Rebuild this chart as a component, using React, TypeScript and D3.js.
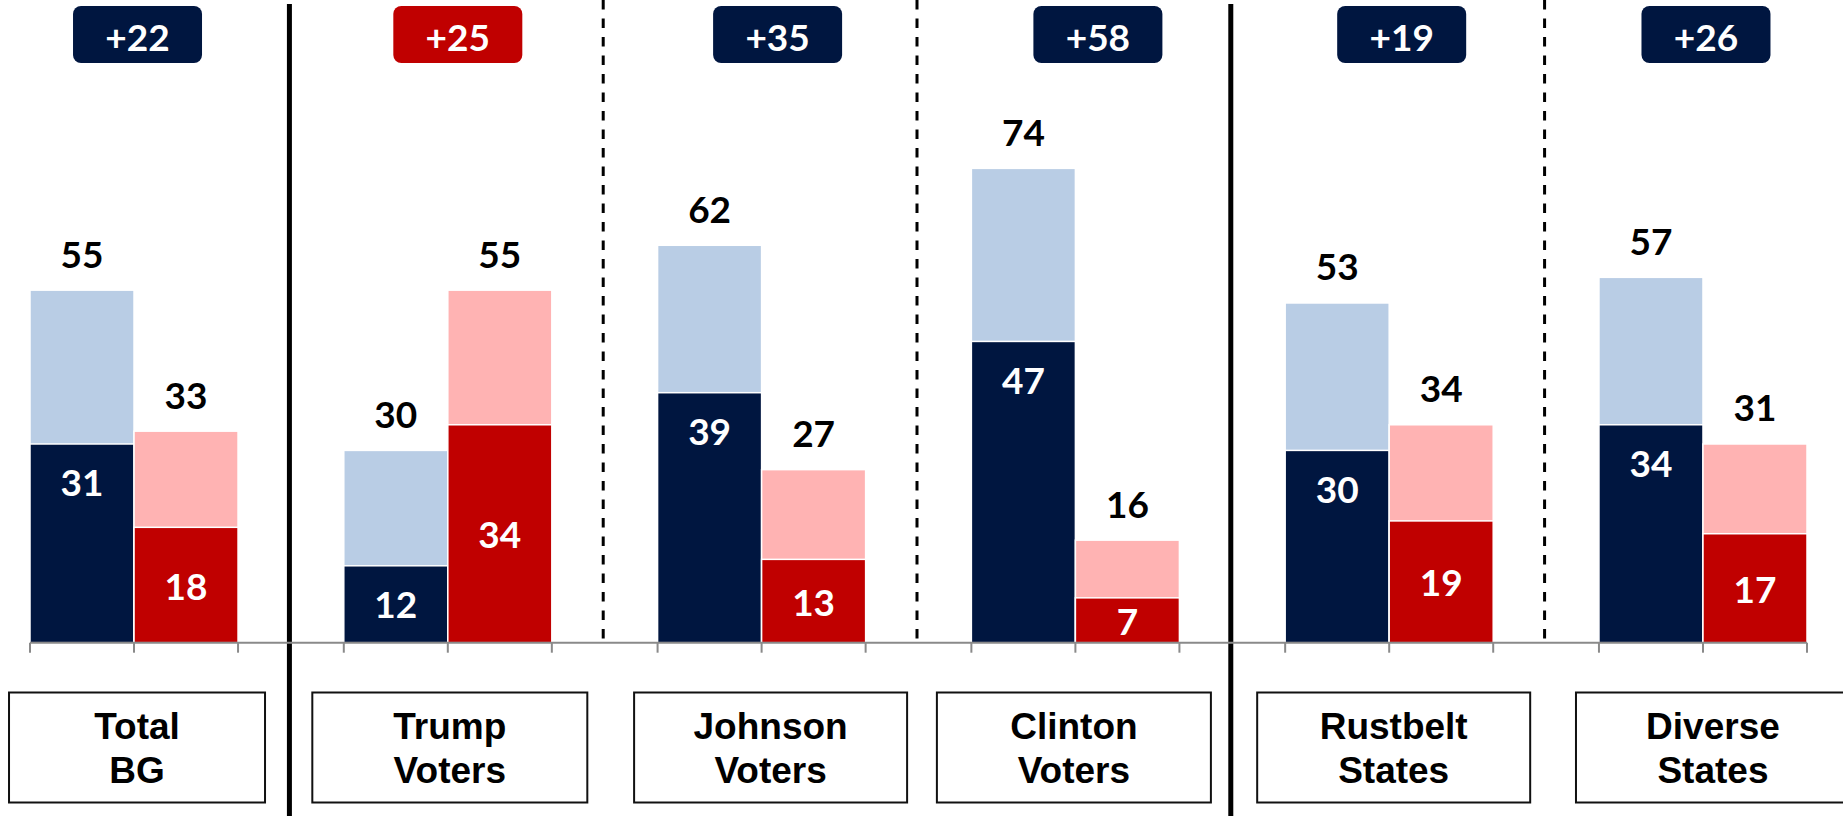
import React from "react";
import * as d3 from "d3";

// ---- data ----
const categories = ["Total BG", "Trump Voters", "Johnson Voters", "Clinton Voters", "Rustbelt States", "Diverse States"];
const categoryLines = [["Total", "BG"], ["Trump", "Voters"], ["Johnson", "Voters"], ["Clinton", "Voters"], ["Rustbelt", "States"], ["Diverse", "States"]];
const demTotal = [55, 30, 62, 74, 53, 57];
const demStrong = [31, 12, 39, 47, 30, 34];
const repTotal = [33, 55, 27, 16, 34, 31];
const repStrong = [18, 34, 13, 7, 19, 17];
const marginLabels = ["+22", "+25", "+35", "+58", "+19", "+26"];
const marginParty = ["D", "R", "D", "D", "D", "D"];
const separatorKinds = ["solid", "dashed", "dashed", "solid", "dashed"];

// ---- layout (not data) ----
const W = 1843;
const H = 816;
const badgeShift = [3.5, 10, 16, 22.5, 12.5, 3];
const boxShift = [3, 2, 9, -1.5, 4.5, 10];
const boxWidth = [256, 275, 273, 274, 273, 274];

const NAVY = "#001640";
const RED = "#C00000";
const LIGHT_BLUE = "#B9CDE5";
const PINK = "#FFB3B3";
const NUM_FONT = "Lato, 'Open Sans', sans-serif";
const LABEL_FONT = "'Liberation Sans', Arial, sans-serif";

export default function App() {
  const baseline = 642.7;
  const y = d3.scaleLinear().domain([0, 100]).range([baseline, baseline - 641]);
  const x0 = d3.scaleBand<string>().domain(categories).range([30, 1807]).paddingInner(0.337).paddingOuter(0);
  const x1 = d3.scaleBand<string>().domain(["D", "R"]).range([0, x0.bandwidth()]).padding(0);
  const bw = x1.bandwidth();
  const step = x0.step();
  const gap = step - x0.bandwidth();

  const axisStart = x0(categories[0])!;
  const axisEnd = x0(categories[categories.length - 1])! + x0.bandwidth();

  return (
    <svg width={W} height={H} style={{ position: "absolute", left: 0, top: 0, background: "#fff" }}>
      {/* separators */}
      {separatorKinds.map((k, i) => {
        const sx = x0(categories[i])! + x0.bandwidth() + gap / 2 - 1.5;
        return k === "solid" ? (
          <line key={"s" + i} x1={sx} x2={sx} y1={4} y2={H} stroke="#000" strokeWidth={5} />
        ) : (
          <line key={"s" + i} x1={sx} x2={sx} y1={0} y2={baseline + 3} stroke="#000" strokeWidth={3} strokeDasharray="9.5,9" />
        );
      })}

      {/* bars */}
      {categories.map((c, i) => {
        const gx = x0(c)!;
        const dx = gx + x1("D")!;
        const rx = gx + x1("R")!;
        return (
          <g key={"b" + i}>
            <rect x={dx} y={y(demTotal[i])} width={bw} height={baseline - y(demTotal[i])} fill={LIGHT_BLUE} stroke="#fff" strokeWidth={1.5} />
            <rect x={dx} y={y(demStrong[i])} width={bw} height={baseline - y(demStrong[i])} fill={NAVY} stroke="#fff" strokeWidth={1.5} />
            <rect x={rx} y={y(repTotal[i])} width={bw} height={baseline - y(repTotal[i])} fill={PINK} stroke="#fff" strokeWidth={1.5} />
            <rect x={rx} y={y(repStrong[i])} width={bw} height={baseline - y(repStrong[i])} fill={RED} stroke="#fff" strokeWidth={1.5} />
            {/* totals */}
            <text x={dx + bw / 2} y={y(demTotal[i]) - 22.5} textAnchor="middle" fontFamily={NUM_FONT} fontWeight={700} fontSize={37} fill="#000">
              {demTotal[i]}
            </text>
            <text x={rx + bw / 2} y={y(repTotal[i]) - 22.5} textAnchor="middle" fontFamily={NUM_FONT} fontWeight={700} fontSize={37} fill="#000">
              {repTotal[i]}
            </text>
            {/* inner labels */}
            <text x={dx + bw / 2} y={Math.min(y(demStrong[i]) + 52.5, (y(demStrong[i]) + baseline) / 2 + 14)} textAnchor="middle" fontFamily={NUM_FONT} fontWeight={700} fontSize={37} fill="#fff">
              {demStrong[i]}
            </text>
            <text x={rx + bw / 2} y={(y(repStrong[i]) + baseline) / 2 + 14.5} textAnchor="middle" fontFamily={NUM_FONT} fontWeight={700} fontSize={37} fill="#fff">
              {repStrong[i]}
            </text>
          </g>
        );
      })}

      {/* axis */}
      <line x1={axisStart} x2={axisEnd} y1={baseline} y2={baseline} stroke="#8a8a8a" strokeWidth={2} />
      {categories.map((c, i) => {
        const gx = x0(c)!;
        const ticks = [gx, gx + bw, gx + 2 * bw];
        return ticks.map((t, j) => (
          <line key={"t" + i + "_" + j} x1={t} x2={t} y1={baseline} y2={baseline + 10} stroke="#8a8a8a" strokeWidth={2} />
        ));
      })}

      {/* margin badges */}
      {categories.map((c, i) => {
        const cx = x0(c)! + x0.bandwidth() / 2 + badgeShift[i];
        return (
          <g key={"m" + i}>
            <rect x={cx - 64.5} y={6} width={129} height={57} rx={8} ry={8} fill={marginParty[i] === "R" ? RED : NAVY} />
            <text x={cx} y={50.5} textAnchor="middle" fontFamily={NUM_FONT} fontWeight={700} fontSize={37} fill="#fff">
              {marginLabels[i]}
            </text>
          </g>
        );
      })}

      {/* category boxes */}
      {categories.map((c, i) => {
        const cx = x0(c)! + x0.bandwidth() / 2 + boxShift[i];
        const w = boxWidth[i];
        return (
          <g key={"c" + i}>
            <rect x={cx - w / 2} y={692.5} width={w} height={110} fill="#fff" stroke="#111" strokeWidth={2} />
            {categoryLines[i].map((ln, j) => (
              <text key={j} x={cx} y={739 + j * 43.7} textAnchor="middle" fontFamily={LABEL_FONT} fontWeight={700} fontSize={37} fill="#000">
                {ln}
              </text>
            ))}
          </g>
        );
      })}
    </svg>
  );
}
